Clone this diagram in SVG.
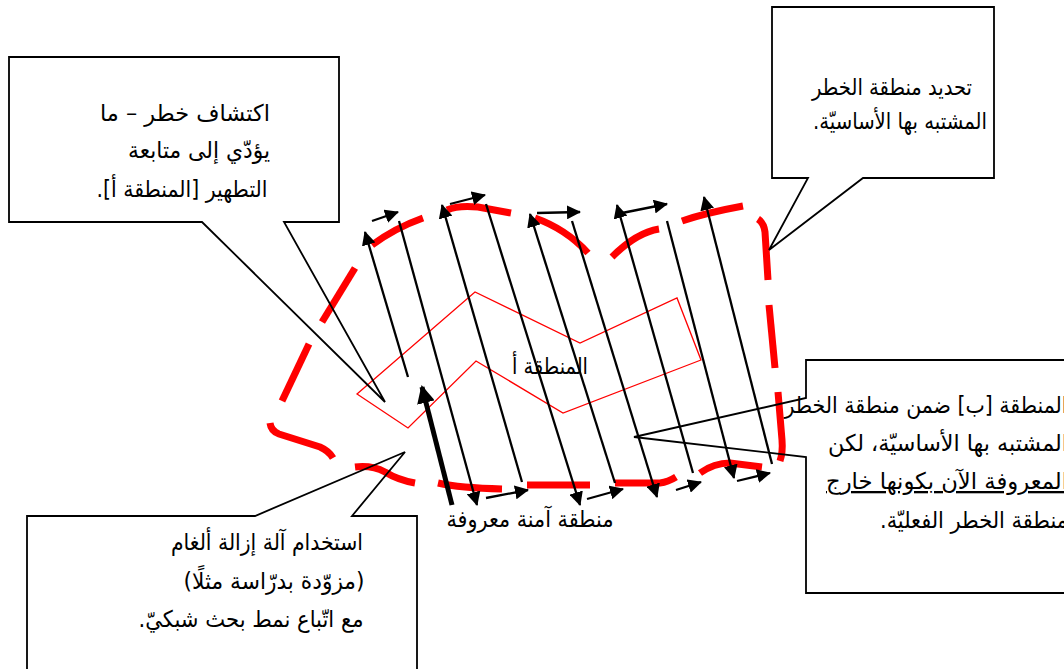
<svg xmlns="http://www.w3.org/2000/svg" width="1064" height="669" viewBox="0 0 1064 669">
<style>
.ar{font-family:"DejaVu Sans",sans-serif;font-size:23px;fill:#000;direction:rtl;text-anchor:middle}
.box{fill:none;stroke:#000;stroke-width:1.8;stroke-linejoin:miter}
.dash{fill:none;stroke:#ff0000;stroke-width:7;stroke-linecap:butt}
.ln{fill:none;stroke:#000;stroke-width:2.3;marker-end:url(#ah)}
.thick{fill:none;stroke:#000;stroke-width:5;marker-end:url(#ahb)}
.zone{fill:none;stroke:#ff0000;stroke-width:1.3}
</style>
<defs>
<marker id="ah" markerUnits="userSpaceOnUse" viewBox="0 0 14 14" markerWidth="14" markerHeight="14" refX="13" refY="7" orient="auto"><path d="M0,0 L14,7 L0,14 Z" fill="#000"/></marker>
<marker id="ahb" markerUnits="userSpaceOnUse" viewBox="0 0 18 18" markerWidth="18" markerHeight="18" refX="16" refY="9" orient="auto"><path d="M0,0 L18,9 L0,18 Z" fill="#000"/></marker>
</defs>
<rect width="1064" height="669" fill="#fff"/>

<g id="area-a">
<polygon class="zone" points="357,394 475,292 580,343 677,298 701,360 563,413 476,361 408,428"/>
<text class="ar" x="550" y="374" textLength="76" lengthAdjust="spacingAndGlyphs" fill="#333">المنطقة أ</text>
</g>

<g id="suspected-hazard-area">
<path class="dash" d="M270,423 Q271,431 279,434 L320,447 Q329,451 333,458"/>
<path class="dash" d="M309,344 L282,401"/>
<path class="dash" d="M355,268 L322,322"/>
<path class="dash" d="M372,245 Q395,228 423,218"/>
<path class="dash" d="M447,210 Q458,205 478,207 L511,213"/>
<path class="dash" d="M535,218 Q566,229 588,253"/>
<path class="dash" d="M612,257 C625,244 640,232 659,229"/>
<path class="dash" d="M682,221 Q705,213 743,206"/>
<path class="dash" d="M758,219 Q764,223 765,232 L768,280"/>
<path class="dash" d="M769,305 L775,368"/>
<path class="dash" d="M778,392 L782,440 Q783,452 780,461"/>
<path class="dash" d="M700,473 Q714,463 730,463 L762,467"/>
<path class="dash" d="M615,483 L660,483 Q668,482 676,477"/>
<path class="dash" d="M527,485 L590,485"/>
<path class="dash" d="M438,483 Q460,488 502,489"/>
<path class="dash" d="M355,467 Q372,465 385,472 Q398,480 415,483"/>
</g>

<g id="connectors">
<path class="ln" d="M408,377 L365,232"/>
<path class="ln" d="M372,221 L398,212"/>
<path class="ln" d="M399,221 L477,505"/>
<path class="ln" d="M486,498 L528,490"/>
<path class="ln" d="M522,482 L442,205"/>
<path class="ln" d="M450,204 L485,195"/>
<path class="ln" d="M486,204 L580,505"/>
<path class="ln" d="M587,499 L623,489"/>
<path class="ln" d="M615,483 L530,214"/>
<path class="ln" d="M537,213 L580,212"/>
<path class="ln" d="M572,221 L657,497"/>
<path class="ln" d="M676,490 L701,482"/>
<path class="ln" d="M693,473 L617,205"/>
<path class="ln" d="M622,213 L667,204"/>
<path class="ln" d="M667,221 L734,478"/>
<path class="ln" d="M737,481 L770,473"/>
<path class="ln" d="M772,464 L704,197"/>
<path class="thick" d="M452,505 L422,387"/>
</g>

<g id="safe-area">
<text class="ar" x="530" y="527" textLength="167" lengthAdjust="spacingAndGlyphs">منطقة آمنة معروفة</text>
</g>

<g id="callout-detection">
<path class="box" d="M9,57 H339 V222 H284 L385,402 L202,222 H9 Z"/>
<text class="ar" x="185" y="121" textLength="170" lengthAdjust="spacingAndGlyphs">اكتشاف خطر – ما</text>
<text class="ar" x="199" y="158" textLength="142" lengthAdjust="spacingAndGlyphs">يؤدّي إلى متابعة</text>
<text class="ar" x="182" y="197" textLength="171" lengthAdjust="spacingAndGlyphs">التطهير [المنطقة أ].</text>
</g>

<g id="callout-sha">
<path class="box" d="M772,7 H994 V178 H863 L769,250 L808,178 H772 Z"/>
<text class="ar" x="892" y="95" textLength="160" lengthAdjust="spacingAndGlyphs">تحديد منطقة الخطر</text>
<text class="ar" x="900" y="129" textLength="174" lengthAdjust="spacingAndGlyphs">المشتبه بها الأساسيّة.</text>
</g>

<g id="callout-area-b">
<path class="box" d="M806,360 H1075 V593 H806 V457 L634,437 L806,398 Z"/>
<text class="ar" x="926" y="413" textLength="283" lengthAdjust="spacingAndGlyphs">المنطقة [ب] ضمن منطقة الخطر</text>
<text class="ar" x="948" y="451" textLength="240" lengthAdjust="spacingAndGlyphs">المشتبه بها الأساسيّة، لكن</text>
<text class="ar" x="947" y="489" textLength="242" lengthAdjust="spacingAndGlyphs" text-decoration="underline">المعروفة الآن بكونها خارج</text>
<text class="ar" x="974" y="528" textLength="188" lengthAdjust="spacingAndGlyphs">منطقة الخطر الفعليّة.</text>
</g>

<g id="callout-machine">
<path class="box" d="M27,680 V516 H255 L405,452 L352,516 H417 V680"/>
<text class="ar" x="267" y="550" textLength="192" lengthAdjust="spacingAndGlyphs">استخدام آلة إزالة ألغام</text>
<text class="ar" x="274" y="589" textLength="181" lengthAdjust="spacingAndGlyphs">(مزوّدة بدرّاسة مثلًا)</text>
<text class="ar" x="251" y="627" textLength="225" lengthAdjust="spacingAndGlyphs">مع اتّباع نمط بحث شبكيّ.</text>
</g>
</svg>
